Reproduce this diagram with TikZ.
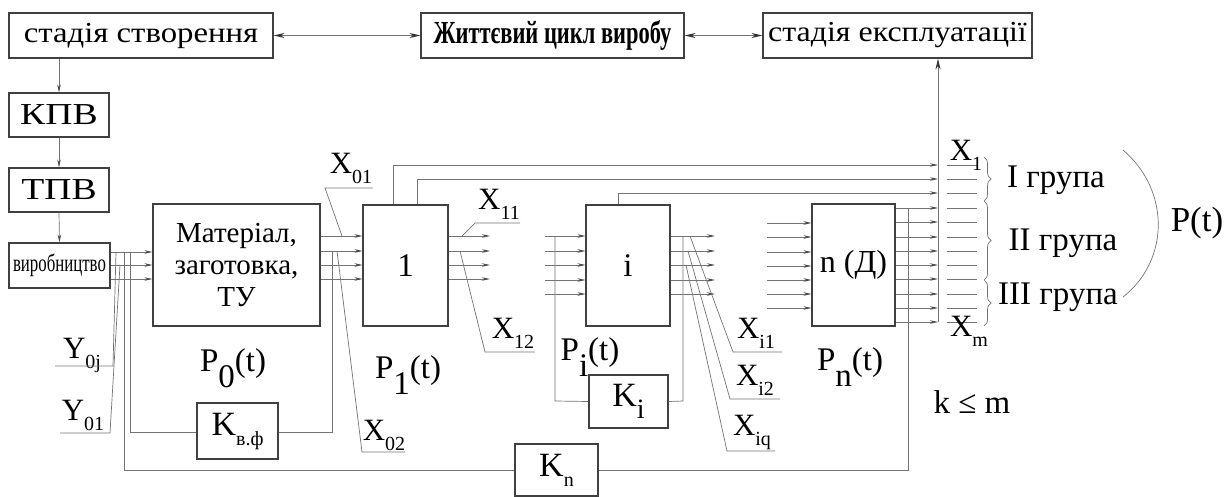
\documentclass[tikz,border=0pt]{standalone}
\usepackage{fontspec}
\setmainfont{Liberation Serif}
\usetikzlibrary{arrows.meta,decorations.pathreplacing}
\newcommand{\xsub}[2]{#1\raisebox{-10pt}{\fontsize{20}{20}\selectfont #2}}
\newcommand{\bsub}[2]{#1\raisebox{-16pt}{#2}}
\begin{document}
\begin{tikzpicture}[x=1pt,y=-1pt,
  box/.style={draw=black!75,line width=1.1pt,inner sep=0pt,font=\fontsize{29}{32}\selectfont},
  ln/.style={draw=black!55,line width=0.7pt},
  tip/.tip={Stealth[length=8pt,width=3.5pt,black!70]},
  htip/.tip={Stealth[length=11pt,width=5pt,black!80]},
  arr/.style={ln,-tip},
  lbl/.style={inner sep=0pt,font=\fontsize{33}{34}\selectfont},
  xl/.style={inner sep=0pt,font=\fontsize{31}{32}\selectfont}]
\useasboundingbox (0,0) rectangle (1228,497);
% top row
\node[box,minimum width=264pt,minimum height=45pt] (sc) at (141,35.5) {\scalebox{1.13}[1]{стадія створення}};
\node[box,minimum width=263pt,minimum height=45pt] (zc) at (552.5,35.5) {\resizebox{238pt}{23pt}{\bfseries Життєвий цикл виробу}};
\node[box,minimum width=269pt,minimum height=45pt] (se) at (897.5,35.5) {\scalebox{1.1}[1]{стадія експлуатації}};
\draw[ln,line width=0.9pt,htip-htip] (sc.east) -- (zc.west);
\draw[ln,line width=0.9pt,htip-htip] (zc.east) -- (se.west);
% left column
\node[box,minimum width=100pt,minimum height=44pt] (kpv) at (59,115) {\scalebox{1.3}[1.05]{КПВ}};
\node[box,minimum width=100pt,minimum height=44pt] (tpv) at (59,190) {\scalebox{1.3}[1.05]{ТПВ}};
\node[box,minimum width=101pt,minimum height=45pt] (vyr) at (59.5,265.5) {\scalebox{0.58}[0.85]{виробництво}};
\draw[arr] (kpv.north |- sc.south) -- (kpv.north);
\draw[arr] (kpv.south) -- (tpv.north);
\draw[arr] (tpv.south) -- (vyr.north);
% main blocks
\node[box,minimum width=167pt,minimum height=122pt,align=center] (mat) at (236.5,265) {Матеріал,\\заготовка,\\ТУ};
\node[box,minimum width=85pt,minimum height=121pt] (b1) at (405.5,265.5) {\fontsize{33}{34}\selectfont 1};
\node[box,minimum width=84pt,minimum height=121pt] (bi) at (628,265.5) {\fontsize{33}{34}\selectfont i};
\node[box,minimum width=83pt,minimum height=122pt] (bn) at (853.5,265) {\fontsize{32}{34}\selectfont n (Д)};
\node[box,minimum width=81pt,minimum height=56pt] (kvf) at (237.5,431) {\fontsize{34}{34}\selectfont\xsub{K}{в.ф}};
\node[box,minimum width=79pt,minimum height=53pt] (ki) at (628.5,401.5) {\fontsize{34}{34}\selectfont K\raisebox{-12pt}{\fontsize{28}{28}\selectfont i}};
\node[box,minimum width=83pt,minimum height=52pt] (kn) at (556.5,470) {\fontsize{34}{34}\selectfont\xsub{K}{n}};
\coordinate (bus) at (938,322);
% inputs / outputs
\foreach \y in {252,265,279} \draw[arr] (vyr.east |- 0,\y) -- (mat.west |- 0,\y);
\foreach \y in {236,251,265,279} \draw[arr] (mat.east |- 0,\y) -- (b1.west |- 0,\y);
\foreach \y in {236,251,265,279} \draw[arr] (b1.east |- 0,\y) -- (490,\y);
\foreach \y in {236,251,265,280,294} \draw[arr] (545,\y) -- (bi.west |- 0,\y);
\foreach \y in {236,251,265,280,294} \draw[arr] (bi.east |- 0,\y) -- (715,\y);
\foreach \y in {223,237,252,266,280,294,308} \draw[arr] (767,\y) -- (bn.west |- 0,\y);
\foreach \y in {208,222,237,251,265,279,294,308,322} \draw[arr] (bn.east |- 0,\y) -- (bus |- 0,\y);
% top lines to bus
\draw[arr] (b1.north -| 393,0) -- (393,165) -- (bus |- 0,165);
\draw[arr] (b1.north -| 417,0) -- (417,179) -- (bus |- 0,179);
\draw[arr] (bi.north -| 618,0) -- (618,193) -- (bus |- 0,193);
\draw[ln,line width=0.9pt,-htip] (bus) -- (bus |- se.south);
\foreach \y in {165,179,193,208,222,237,251,265,279,294,308,322} \draw[ln] (947,\y) -- (977,\y);
% feedback loops
\draw[ln] (130,252) -- (130,432) -- (kvf.west |- 0,432);
\draw[ln] (kvf.east |- 0,432) -- (332,432) -- (332,251);
\draw[ln] (124,252) -- (124,470) -- (kn.west);
\draw[ln] (kn.east) -- (908,470) -- (908,208);
\draw[ln] (555,236) -- (555,401) -- (ki.west);
\draw[ln] (ki.east) -- (683,401) -- (683,236);
% Y labels
\node[xl] (y0j) at (82,355) {\xsub{Y}{0j}};
\node[xl] (y01) at (83,415) {\xsub{Y}{01}};
\draw[ln] (55,366) -- (113,366) -- (116,252);
\draw[ln] (60,433) -- (110,433) -- (120,265);
% X labels
\node[xl] (x01) at (351,168) {\xsub{X}{01}};
\draw[ln] (373,188) -- (325,188) -- (342,236);
\node[xl] (x02) at (384,435) {\xsub{X}{02}};
\draw[ln] (405,452) -- (362,452) -- (337,251);
\node[xl] (x11) at (499,204) {\xsub{X}{11}};
\draw[ln] (520,223) -- (475,223) -- (462,236);
\node[xl] (x12) at (513,333) {\xsub{X}{12}};
\draw[ln] (535,352) -- (485,352) -- (460,251);
\node[xl] (xi1) at (756,333) {\xsub{X}{i1}};
\draw[ln] (782,352) -- (733,352) -- (690,236);
\node[xl] (xi2) at (755,380) {\xsub{X}{i2}};
\draw[ln] (780,399) -- (730,399) -- (688,251);
\node[xl] (xiq) at (752,432) {\xsub{X}{iq}};
\draw[ln] (775,451) -- (727,451) -- (686,265);
\node[xl] (x1) at (966,155) {\xsub{X}{1}};
\node[xl] (xm) at (969,331) {\xsub{X}{m}};
% P labels
\node[lbl] (p0) at (233,368) {\bsub{P}{0}(t)};
\node[lbl] (p1) at (408,375) {\bsub{P}{1}(t)};
\node[lbl] (pi) at (590,357) {\bsub{P}{i}(t)};
\node[lbl] (pn) at (850,367) {\bsub{P}{n}(t)};
\node[lbl] (km) at (972,402) {k ≤ m};
% groups
\draw[ln,decorate,decoration={brace,amplitude=7pt}] (984,157) -- (984,201);
\draw[ln,decorate,decoration={brace,amplitude=7pt}] (984,201) -- (984,280);
\draw[ln,decorate,decoration={brace,amplitude=7pt}] (984,280) -- (984,326);
\node[lbl] (g1) at (1056,180) {I група};
\node[lbl] (g2) at (1063,243) {II група};
\node[lbl] (g3) at (1058,297) {III група};
\draw[ln] (1123,150) .. controls (1170,190) and (1170,260) .. (1123,297);
\node[lbl,font=\fontsize{35}{36}\selectfont] (pt) at (1197,223) {P(t)};
\end{tikzpicture}
\end{document}
